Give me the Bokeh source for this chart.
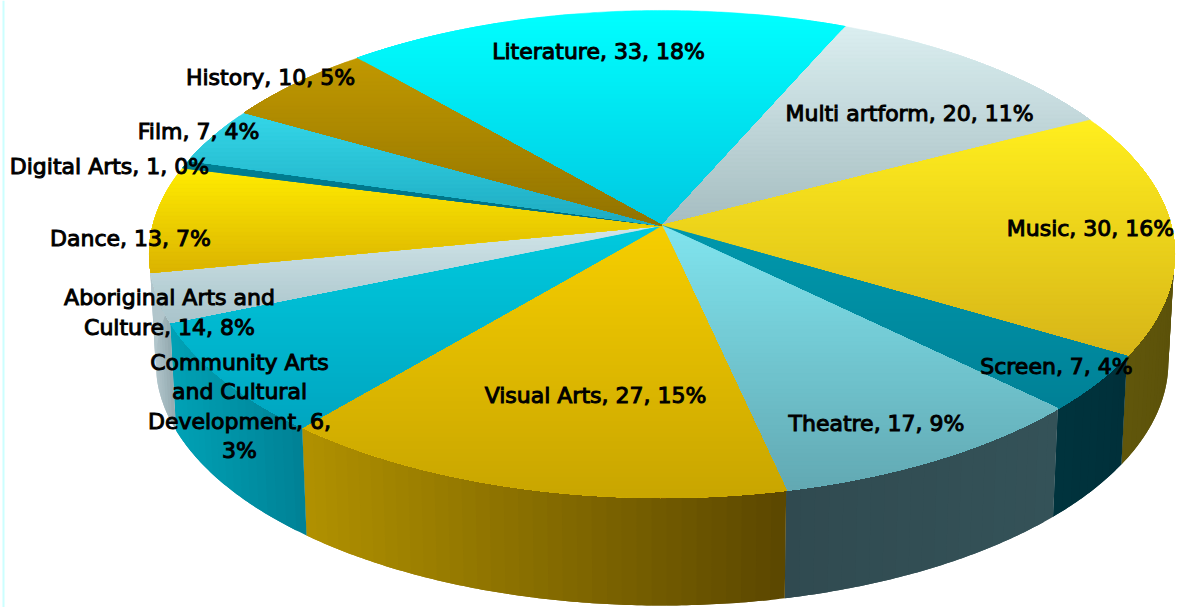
import math
from bokeh.plotting import figure
from bokeh.models import ColumnDataSource, Range1d
from bokeh.core.properties import value
from bokeh.embed import file_html
from bokeh.resources import INLINE

# --- data, clockwise from Literature ---
names = ["Literature", "Multi artform", "Music", "Screen", "Theatre", "Visual Arts",
         "Aboriginal Arts and Culture", "Community Arts and Cultural Development",
         "Dance", "Digital Arts", "Film", "History"]
counts = [33, 20, 30, 7, 17, 27, 14, 6, 13, 1, 7, 10]
percents = [18, 11, 16, 4, 9, 15, 8, 3, 7, 0, 4, 5]
label_texts = ["Literature, 33, 18%", "Multi artform, 20, 11%", "Music, 30, 16%", "Screen, 7, 4%",
               "Theatre, 17, 9%", "Visual Arts, 27, 15%", "Aboriginal Arts and\nCulture, 14, 8%",
               "Community Arts\nand Cultural\nDevelopment, 6,\n3%", "Dance, 13, 7%",
               "Digital Arts, 1, 0%", "Film, 7, 4%", "History, 10, 5%"]

# --- styles ---
top_hi = [(0, 255, 255), (218, 238, 240), (255, 238, 30), (0, 152, 172), (128, 228, 238), (246, 206, 0),
          (0, 202, 222), (208, 228, 232), (255, 236, 0), (0, 128, 148), (52, 214, 232), (192, 152, 0)]
top_lo = [(0, 200, 225), (165, 188, 192), (214, 180, 24), (0, 128, 150), (98, 168, 178), (200, 165, 0),
          (0, 165, 192), (168, 195, 202), (218, 178, 0), (0, 110, 130), (30, 170, 192), (145, 115, 0)]
side_l = [(120, 120, 120), (120, 120, 120), (100, 90, 12), (0, 52, 62), (48, 74, 80), (178, 146, 0),
          (0, 162, 182), (178, 198, 204), (178, 198, 204), (0, 100, 120), (0, 120, 140), (100, 80, 0)]
side_r = [(120, 120, 120), (120, 120, 120), (92, 82, 10), (0, 48, 58), (52, 82, 88), (92, 72, 0),
          (0, 130, 150), (150, 172, 178), (178, 198, 204), (0, 100, 120), (0, 120, 140), (100, 80, 0)]
label_x = [598, 909, 1090, 1056, 876, 595, 169, 239, 130, 109, 198, 270]
label_y = [51, 113, 228, 366, 423, 395, 312, 406, 238, 166, 131, 77]

X0, Y0, A, B, K = 661.5, 225.0, 509.0, 240.2, 0.117
DEPTH, SHRINK = 108.0, 0.988
START = -40.7


def project(deg):
    r = math.radians(deg)
    u, v = math.sin(r), math.cos(r)
    d = 1 + K * v
    return X0 + A * u / d, Y0 - B * v / d


def lower(pt):
    return X0 + (pt[0] - X0) * SHRINK, pt[1] + DEPTH


def mix(a, b, t):
    t = max(0.0, min(1.0, t))
    return "#%02x%02x%02x" % tuple(round(a[i] + (b[i] - a[i]) * t) for i in range(3))


def clip_below(poly, y):
    out = []
    for i, p in enumerate(poly):
        q = poly[(i + 1) % len(poly)]
        pin, qin = p[1] >= y, q[1] >= y
        if pin:
            out.append(p)
        if pin != qin:
            t = (y - p[1]) / (q[1] - p[1])
            out.append((p[0] + (q[0] - p[0]) * t, y))
    return out


total = sum(counts)
edges = [START]
for c in counts:
    edges.append(edges[-1] + 360.0 * c / total)

side_xs, side_ys, side_c = [], [], []
top_xs, top_ys, top_c = [], [], []

for i in range(len(counts)):
    a0, a1 = edges[i], edges[i + 1]
    n = max(2, int((a1 - a0) / 0.5))
    angs = [a0 + (a1 - a0) * j / n for j in range(n + 1)]
    arc = [project(a) for a in angs]

    # side wall: overlapping strips along the visible front rim
    xl, xr = min(p[0] for p in arc), max(p[0] for p in arc)
    step = max(1, int(2.0 / ((a1 - a0) / n)))
    for j in range(0, n, step):
        seg = arc[j:min(j + 2 * step, n) + 1]
        a_mid = (angs[j] + angs[min(j + step, n)]) / 2
        if len(seg) < 2 or not 70 < (a_mid % 360) < 290:
            continue
        t = (seg[0][0] - xl) / max(1.0, xr - xl)
        quad = seg + [lower(q) for q in reversed(seg)]
        side_xs.append([c[0] for c in quad])
        side_ys.append([c[1] for c in quad])
        side_c.append(mix(side_l[i], side_r[i], t))

    # top face: painter-ordered bands with a vertical gradient
    poly = [(X0, Y0)] + arc
    ymin, ymax = min(p[1] for p in poly), max(p[1] for p in poly)
    y = ymin
    while y < ymax:
        band = clip_below(poly, y)
        if len(band) >= 3:
            top_xs.append([c[0] for c in band])
            top_ys.append([c[1] for c in band])
            top_c.append(mix(top_hi[i], top_lo[i], (y - ymin) / max(1.0, ymax - ymin)))
        y += 4

p = figure(width=1186, height=607, output_backend="svg", toolbar_location=None,
           x_range=Range1d(0, 1186), y_range=Range1d(607, 0),
           min_border=0, outline_line_color=None, background_fill_color="white",
           border_fill_color="white")
p.axis.visible = False
p.grid.visible = False

p.segment(x0=[3], y0=[0], x1=[3], y1=[607], line_color="#ccffff", line_width=2)
p.patches(side_xs, side_ys, fill_color=side_c, line_color=None)
p.patches(top_xs, top_ys, fill_color=top_c, line_color=top_c, line_width=0.5)

src = ColumnDataSource(dict(x=label_x, y=label_y, t=label_texts))
p.text("x", "y", text="t", source=src, text_align="center", text_baseline="middle",
       text_font=value("DejaVu Sans"), text_font_size="22px", text_color="#000000",
       text_line_height=1.17, text_outline_color="#000000")

open("out.html", "w").write(file_html(p, INLINE))
